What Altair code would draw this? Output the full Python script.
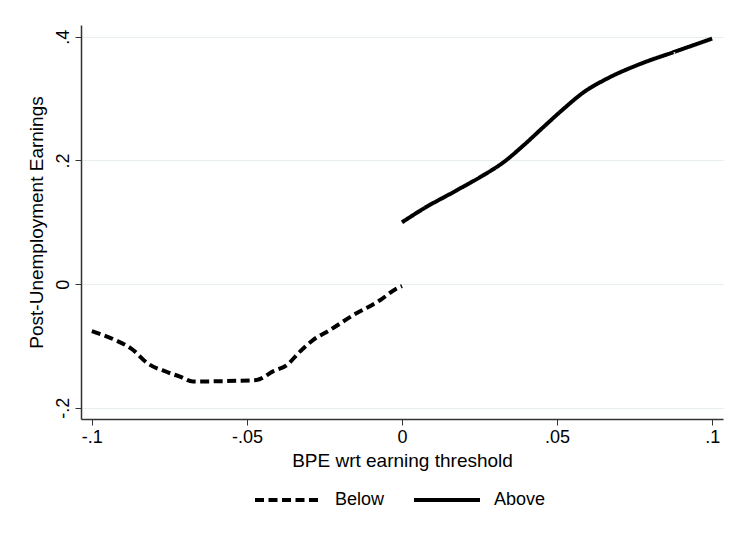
import altair as alt
import pandas as pd

below_x = [-0.1, -0.0926, -0.0868, -0.0823, -0.0758, -0.0716, -0.0674, -0.06, -0.0469,
           -0.0416, -0.0372, -0.0329, -0.0286, -0.0232, -0.0157, -0.0071, -0.0017, 0.0]
below_y = [-0.076, -0.09, -0.106, -0.127, -0.142, -0.1495, -0.1575, -0.157, -0.155,
           -0.141, -0.131, -0.109, -0.090, -0.074, -0.050, -0.026, -0.007, -0.003]

above_x = [0.0, 0.0069, 0.0176, 0.0262, 0.0327, 0.0391, 0.0456, 0.052, 0.0585,
           0.066, 0.0768, 0.0875, 0.1]
above_y = [0.100, 0.122, 0.1516, 0.176, 0.197, 0.224, 0.254, 0.283, 0.310,
           0.332, 0.356, 0.375, 0.397]

series = ["Below", "Above"]
x_ticks = [-0.1, -0.05, 0, 0.05, 0.1]
y_ticks = [-0.2, 0, 0.2, 0.4]

df = pd.concat([
    pd.DataFrame({"x": below_x, "y": below_y, "s": "Below"}),
    pd.DataFrame({"x": above_x, "y": above_y, "s": "Above"}),
])

label_expr = ("datum.value == 0 ? '0' : (datum.value < 0 ? '-' : '') + "
              "replace(format(abs(datum.value), '.2~f'), '0.', '.')")

FONT = "Liberation Sans"

chart = alt.Chart(df).mark_line(strokeWidth=4, interpolate="monotone", color="black").encode(
    x=alt.X("x:Q", scale=alt.Scale(domain=[-0.1035, 0.1035], nice=False, zero=False),
            axis=alt.Axis(values=x_ticks, labelExpr=label_expr, title="BPE wrt earning threshold",
                          grid=False)),
    y=alt.Y("y:Q", scale=alt.Scale(domain=[-0.218, 0.419], nice=False, zero=False),
            axis=alt.Axis(values=y_ticks, labelExpr=label_expr, title="Post-Unemployment Earnings",
                          grid=True, labelAngle=270, labelAlign="center", labelBaseline="bottom")),
    strokeDash=alt.StrokeDash("s:N", scale=alt.Scale(domain=series, range=[[9, 4.5], [1, 0]]),
                              legend=alt.Legend(title=None, orient="none", direction="horizontal",
                                                legendX=172, legendY=440,
                                                symbolType="stroke", symbolSize=4356,
                                                symbolStrokeWidth=4, symbolStrokeColor="black",
                                                labelFontSize=18, labelFont=FONT, labelColor="black",
                                                labelOffset=12, columnPadding=21)),
    detail="s:N",
).properties(
    width=642, height=394,
    autosize=alt.AutoSizeParams(type="none"),
    padding={"left": 81, "top": 25, "right": 9, "bottom": 118},
).configure_view(stroke=None).configure_axis(
    domainColor="#333333", domainWidth=1.5, tickColor="#333333", tickSize=6, tickWidth=1,
    labelFont=FONT, labelFontSize=18, labelColor="black", labelPadding=3,
    titleFont=FONT, titleFontSize=19, titleFontWeight="normal", titleColor="black",
    gridColor="#e6eef0", gridWidth=1.2,
).configure_axisX(titlePadding=5).configure_axisY(titlePadding=8)

chart.save("out.html", embed_options={"renderer": "svg", "actions": False})
